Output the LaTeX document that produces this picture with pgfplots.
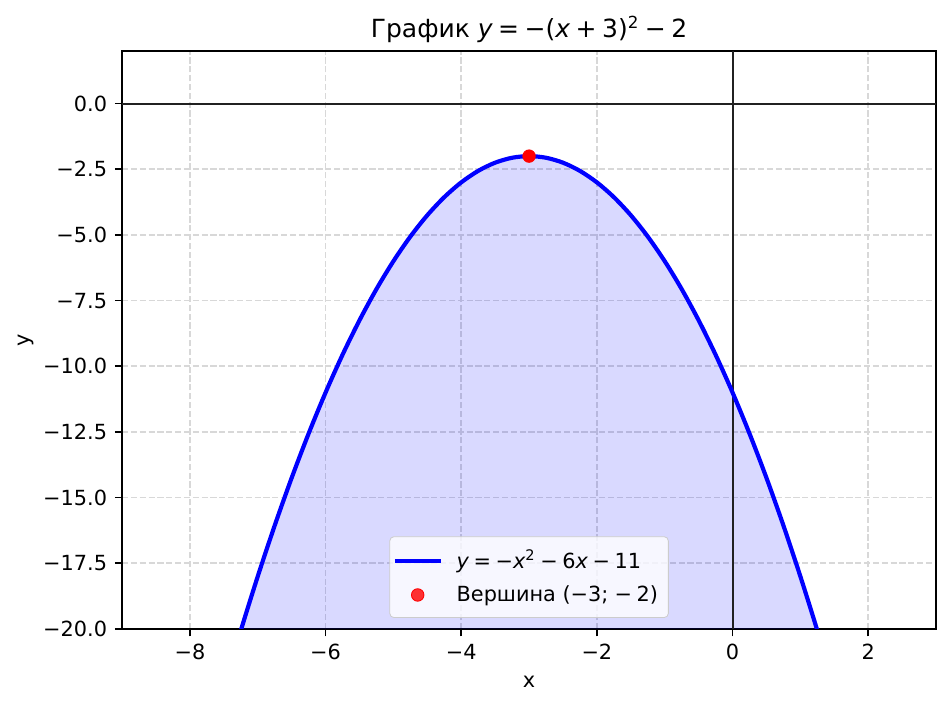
\documentclass[border=0pt]{standalone}
\usepackage{fontspec}
\setmainfont{DejaVu Sans}
\usepackage{pgfplots}
\pgfplotsset{compat=1.18}
\usepackage{pgfplotstable}
\definecolor{gridc}{RGB}{216,216,216}
\definecolor{legframe}{RGB}{204,204,204}
\newcommand{\op}{\hspace{0.22em}}
\pgfplotsset{
  lineleg/.style={legend image code/.code={\draw[##1] (0pt,0pt) -- (22pt,0pt);}},
  markleg/.style={legend image code/.code={\draw[mark repeat=2, mark phase=2, ##1] plot coordinates {(0pt,0pt) (11pt,0pt) (22pt,0pt)};}},
}
\pgfplotstableread{
x y
-7.5 -22.25
-7.25 -20.0625
-7 -18
-6.75 -16.0625
-6.5 -14.25
-6.25 -12.5625
-6 -11
-5.75 -9.5625
-5.5 -8.25
-5.25 -7.0625
-5 -6
-4.75 -5.0625
-4.5 -4.25
-4.25 -3.5625
-4 -3
-3.75 -2.5625
-3.5 -2.25
-3.25 -2.0625
-3 -2
-2.75 -2.0625
-2.5 -2.25
-2.25 -2.5625
-2 -3
-1.75 -3.5625
-1.5 -4.25
-1.25 -5.0625
-1 -6
-0.75 -7.0625
-0.5 -8.25
-0.25 -9.5625
0 -11
0.25 -12.5625
0.5 -14.25
0.75 -16.0625
1 -18
1.25 -20.0625
1.5 -22.25
}\curve
\pgfplotstableread{
x y
-7.5 -30
-7.5 -22.25
-7.25 -20.0625
-7 -18
-6.75 -16.0625
-6.5 -14.25
-6.25 -12.5625
-6 -11
-5.75 -9.5625
-5.5 -8.25
-5.25 -7.0625
-5 -6
-4.75 -5.0625
-4.5 -4.25
-4.25 -3.5625
-4 -3
-3.75 -2.5625
-3.5 -2.25
-3.25 -2.0625
-3 -2
-2.75 -2.0625
-2.5 -2.25
-2.25 -2.5625
-2 -3
-1.75 -3.5625
-1.5 -4.25
-1.25 -5.0625
-1 -6
-0.75 -7.0625
-0.5 -8.25
-0.25 -9.5625
0 -11
0.25 -12.5625
0.5 -14.25
0.75 -16.0625
1 -18
1.25 -20.0625
1.5 -22.25
1.5 -30
}\fillarea
\pgfplotstableread{
x y
-3 -2
}\vertex
\begin{document}
\begin{tikzpicture}
\begin{axis}[
  scale only axis,
  width=390.7pt, height=277.4pt,
  xmin=-9, xmax=3, ymin=-20, ymax=2,
  xtick={-8,-6,-4,-2,0,2},
  xticklabels={−8,−6,−4,−2,0,2},
  ytick={-20,-17.5,-15,-12.5,-10,-7.5,-5,-2.5,0},
  yticklabels={−20.0,−17.5,−15.0,−12.5,−10.0,−7.5,−5.0,−2.5,0.0},
  xtick pos=bottom, ytick pos=left,
  tick align=outside,
  major tick length=3.5pt,
  tick style={black, line width=0.8pt},
  axis line style={black, line width=0.8pt},
  tick label style={font=\fontsize{10}{12}\selectfont, text=black},
  xticklabel style={inner sep=0pt, yshift=-3.5pt},
  yticklabel style={inner sep=0pt, xshift=-3.5pt},
  grid=major,
  major grid style={gridc, line width=0.8pt, dash pattern=on 2.96pt off 1.28pt},
  xlabel={x}, ylabel={y},
  label style={font=\fontsize{10}{12}\selectfont},
  xlabel style={at={(axis description cs:0.5,0)}, anchor=base, xshift=0pt, yshift=-28.3pt},
  ylabel style={at={(axis description cs:-0.1177,0.5)}, anchor=center, xshift=0pt, yshift=0pt},
  title={График {\itshape y}\op=\op−({\itshape x}\op+\op3)\textsuperscript{2}\op−\op2},
  title style={font=\fontsize{12}{14}\selectfont, at={(axis description cs:0.5,1)}, anchor=base, xshift=0pt, yshift=0.7pt},
  legend cell align=left,
  legend style={at={(0.5,0.019)}, anchor=south, font=\fontsize{10}{12}\selectfont,
    draw=legframe, fill=white, fill opacity=0.8, draw opacity=1, text opacity=1,
    rounded corners=2pt, inner xsep=1.4pt, inner ysep=4.3pt, row sep=2.8pt,
    nodes={inner xsep=3.5pt},
    /tikz/every odd column/.append style={column sep=3.2pt}},
]
\addplot[draw=none, fill=blue, fill opacity=0.15, forget plot] table {\fillarea} -- cycle;
\addplot[black!87, line width=1pt, forget plot] coordinates {(-9,0) (3,0)};
\addplot[black!87, line width=1pt, forget plot] coordinates {(0,-20) (0,2)};
\addplot[blue, line width=2pt, smooth, lineleg] table {\curve};
\addlegendentry{{\itshape y}\op=\op−{\itshape x}\textsuperscript{2}\op−\op6{\itshape x}\op−\op11}
\addplot[only marks, mark=*, mark size=3pt, red, mark options={draw=red, fill=red}, markleg] table {\vertex};
\addlegendentry{Вершина (−3;\hspace{0.3em}−\op2)}
\coordinate (bl) at (rel axis cs:0,0);
\coordinate (tr) at (rel axis cs:1,1);
\end{axis}
\pgfresetboundingbox
\path ([shift={(-58.6pt,-37.4pt)}]bl) rectangle ([shift={(6.7pt,24.5pt)}]tr);
\end{tikzpicture}
\end{document}
